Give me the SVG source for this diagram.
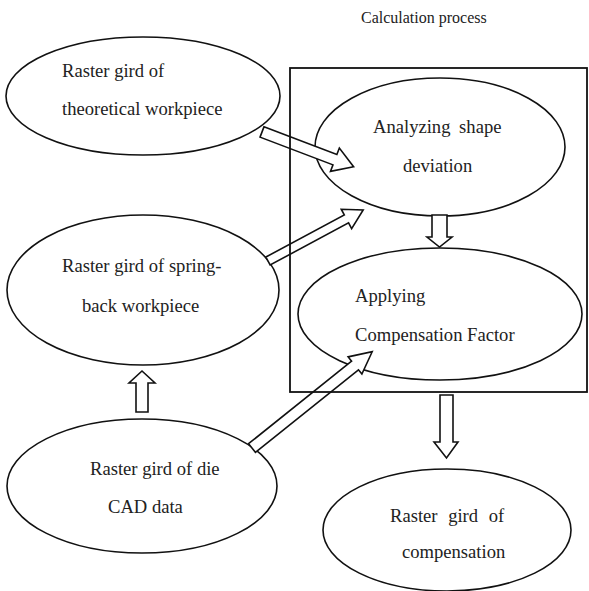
<svg xmlns="http://www.w3.org/2000/svg" width="589" height="591" viewBox="0 0 589 591" font-family="'Liberation Serif', 'DejaVu Serif', serif">
<style>
.node ellipse{fill:#fff;stroke:#111;stroke-width:1.6}
text{font-family:'Liberation Serif','DejaVu Serif',serif;font-size:18.6px;fill:#222}
.arr path{fill:#fff;stroke:#111;stroke-width:1.6;stroke-linejoin:miter}
.box{fill:none;stroke:#111;stroke-width:1.8}
</style>
<rect width="589" height="591" fill="#fff"/>
<text x="361" y="23" font-size="16" style="font-size:16px">Calculation process</text>
<g id="n1" class="node">
<ellipse cx="143" cy="96" rx="137" ry="59"/>
<text x="62" y="77">Raster gird of</text>
<text x="62" y="115">theoretical workpiece</text>
</g>
<g id="n2" class="node">
<ellipse cx="440" cy="147" rx="125" ry="69"/>
<text x="373" y="133" word-spacing="4">Analyzing shape</text>
<text x="403" y="172">deviation</text>
</g>
<g id="n3" class="node">
<ellipse cx="440" cy="314" rx="142" ry="66"/>
<text x="355" y="302">Applying</text>
<text x="355" y="341">Compensation Factor</text>
</g>
<g id="n4" class="node">
<ellipse cx="143" cy="290" rx="136" ry="75"/>
<text x="62" y="272">Raster gird of spring-</text>
<text x="82" y="312">back workpiece</text>
</g>
<g id="n5" class="node">
<ellipse cx="142" cy="486" rx="135" ry="67"/>
<text x="90" y="475">Raster gird of die</text>
<text x="108" y="513">CAD data</text>
</g>
<g id="n6" class="node">
<ellipse cx="447" cy="530" rx="124" ry="61"/>
<text x="390" y="522" word-spacing="6">Raster gird of</text>
<text x="402" y="558">compensation</text>
</g>
<g id="connectors" class="arr">
<path transform="translate(262,132) rotate(20.8)" d="M0,-5.5 L78,-5.5 L78,-12.5 L98,0 L78,12.5 L78,5.5 L0,5.5 Z"/>
<path transform="translate(268,261) rotate(-28.2)" d="M0,-4.5 L89,-4.5 L89,-11 L108,0 L89,11 L89,4.5 L0,4.5 Z"/>
<path transform="translate(252,448) rotate(-38.7)" d="M0,-5.5 L132,-5.5 L132,-11 L154,0 L132,11 L132,5.5 L0,5.5 Z"/>
<path d="M432,215 L447,215 L447,237 L452,237 L439.5,247 L427,237 L432,237 Z"/>
<path d="M136,412 L148,412 L148,383 L155,383 L142,371 L129,383 L136,383 Z"/>
<path d="M440,395 L453,395 L453,442 L458,442 L446.5,458 L434,442 L440,442 Z"/>
</g>
<rect class="box" x="290" y="68" width="297" height="324"/>
</svg>
